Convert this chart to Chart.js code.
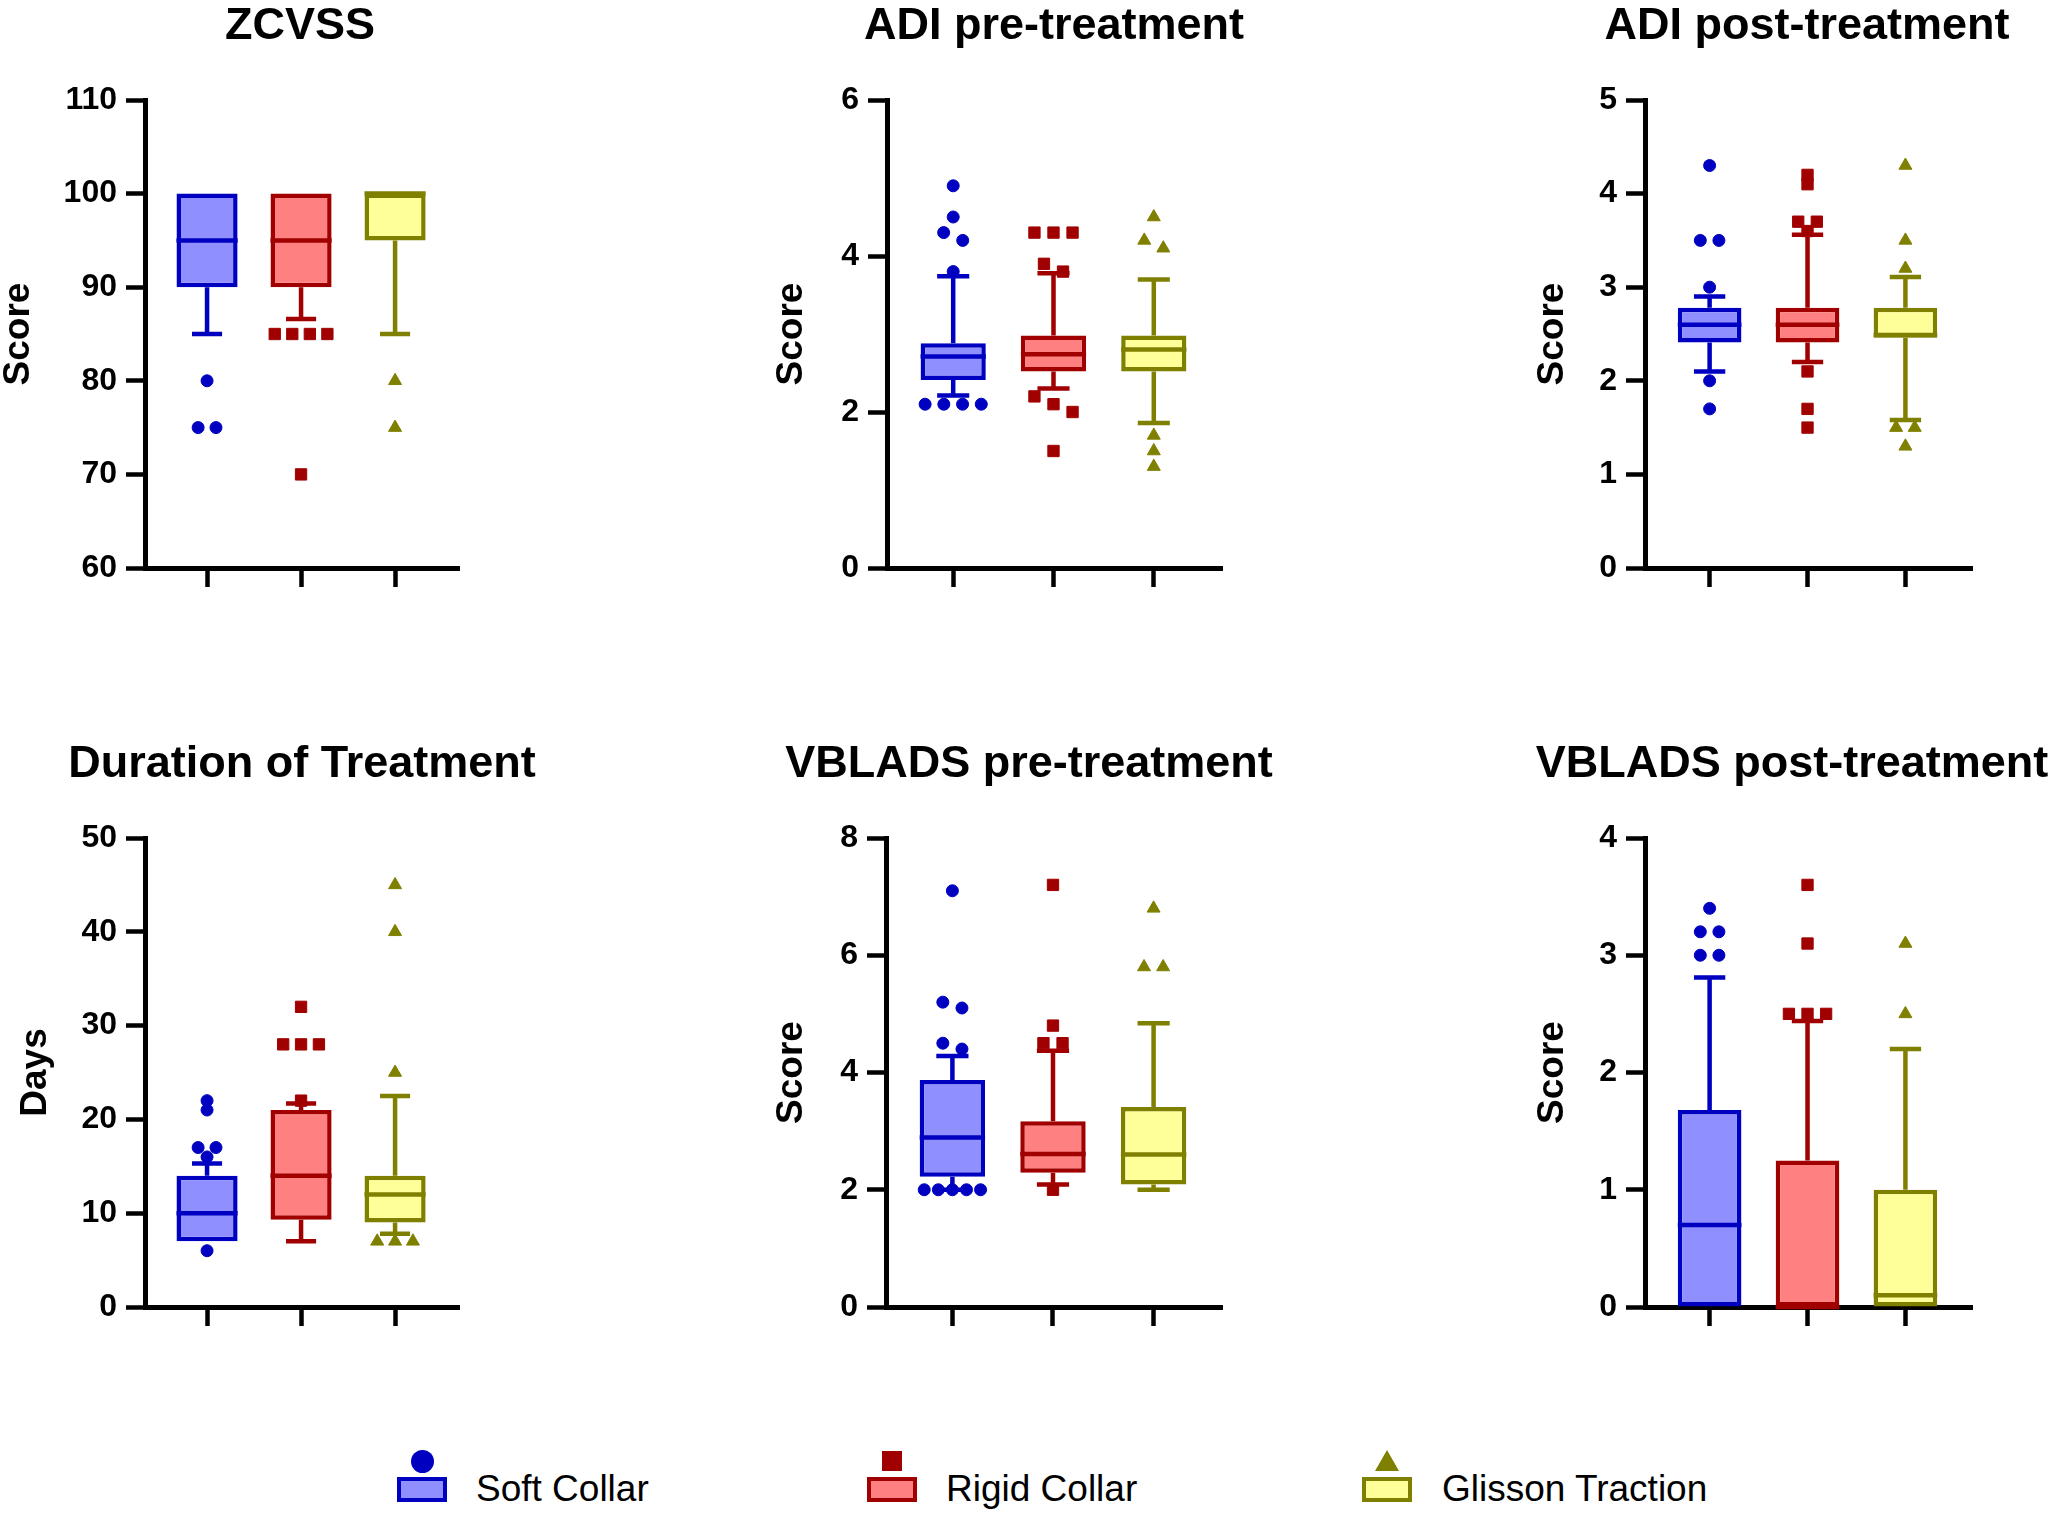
<!DOCTYPE html>
<html lang="en">
  <head>
    <meta charset="UTF-8" />
    <title>Box plots: Soft Collar vs Rigid Collar vs Glisson Traction</title>
    <style>
      html,
      body {
        margin: 0;
        padding: 0;
        background: #fff;
      }
      body {
        width: 2055px;
        height: 1516px;
        position: relative;
        overflow: hidden;
        font-family: "Liberation Sans", Arial, sans-serif;
      }
      canvas {
        position: absolute;
      }
      .legend-mark,
      .legend-box,
      .legend-text {
        position: absolute;
      }
      .legend-box {
        width: 50px;
        height: 25px;
        box-sizing: border-box;
        border: 4px solid;
      }
      .legend-text {
        font-size: 37px;
        line-height: 44px;
        color: #000;
        white-space: nowrap;
      }
    </style>
    <script src="https://cdn.jsdelivr.net/npm/chart.js"></script>
  </head>
  <body>
    <script>
      // grupos y paneles
      const groups = ["Soft Collar", "Rigid Collar", "Glisson Traction"];
      const panelTitles = [
        "ZCVSS",
        "ADI pre-treatment",
        "ADI post-treatment",
        "Duration of Treatment",
        "VBLADS pre-treatment",
        "VBLADS post-treatment",
      ];
      const yTitles = ["Score", "Score", "Score", "Days", "Score", "Score"];
      const yMin = [60, 0, 0, 0, 0, 0];
      const yMax = [110, 6, 5, 50, 8, 4];
      const yStep = [10, 2, 1, 10, 2, 1];

      // caja: [soft, rigid, glisson] para cada panel
      const q1 = [[90, 90, 95], [2.41, 2.52, 2.52], [2.41, 2.41, 2.46], [7, 9.3, 9], [2.22, 2.29, 2.09], [0, 0, 0]];
      const medians = [[95, 95, 100], [2.71, 2.74, 2.8], [2.6, 2.6, 2.49], [10, 14, 12], [2.89, 2.61, 2.6], [0.7, 0, 0.1]];
      const q3 = [[100, 100, 100], [2.88, 2.98, 2.98], [2.78, 2.78, 2.78], [14, 21, 14], [3.87, 3.17, 3.41], [1.68, 1.25, 1.0]];
      const whiskerLow = [[85, 86.6, 85], [2.21, 2.3, 1.86], [2.1, 2.2, 1.58], [7, 7, 7.8], [2.0, 2.09, 2.0], [0, 0, 0]];
      const whiskerHigh = [[100, 100, 100], [3.74, 3.78, 3.7], [2.9, 3.56, 3.11], [15.3, 21.7, 22.5], [4.28, 4.37, 4.84], [2.81, 2.44, 2.2]];

      // valores atipicos
      const outSoft = [
        [80, 75, 75],
        [4.9, 4.5, 4.3, 4.2, 3.8, 2.1, 2.1, 2.1, 2.1],
        [4.3, 3.5, 3.5, 3.0, 2.0, 1.7],
        [22, 21, 17, 17, 16, 6],
        [7.1, 5.2, 5.1, 4.5, 4.4, 2.0, 2.0, 2.0, 2.0, 2.0],
        [3.4, 3.2, 3.2, 3.0, 3.0],
      ];
      const outRigid = [
        [85, 85, 85, 85, 70],
        [4.3, 4.3, 4.3, 3.9, 3.8, 2.2, 2.1, 2.0, 1.5],
        [4.2, 4.1, 3.7, 3.7, 3.6, 2.1, 1.7, 1.5],
        [32, 28, 28, 28, 22],
        [7.2, 4.8, 4.5, 4.5, 2.0],
        [3.6, 3.1, 2.5, 2.5, 2.5],
      ];
      const outGlisson = [
        [80, 75],
        [4.5, 4.2, 4.1, 1.7, 1.5, 1.3],
        [4.3, 3.5, 3.2, 1.5, 1.5, 1.3],
        [45, 40, 25, 7, 7, 7],
        [6.8, 5.8, 5.8],
        [3.1, 2.5],
      ];

      // estilos
      const borderColors = ["#0000C0", "#A00000", "#808000"];
      const fillColors = ["#8F8FFF", "#FF8080", "#FFFF99"];
      const pointStyles = ["circle", "rect", "triangle"];
      const pointSizes = [6, 8, 7.5];
      const FONT = "'Liberation Sans', Arial, sans-serif";
      const BOX_W = 0.65; // ancho de caja en unidades de categoria
      const CAP_W = 0.32;
      const LINE_W = 4.5;

      // posicion de cada lienzo (px)
      const panelLayout = [
        { left: -3, top: 0, width: 606, yW: 148, padW: 144, xH: 32 },
        { left: 770, top: 0, width: 568, yW: 117, padW: 116, xH: 32 },
        { left: 1531, top: 0, width: 552, yW: 114, padW: 111, xH: 32 },
        { left: 14, top: 738, width: 576, yW: 131, padW: 131, xH: 31 },
        { left: 770, top: 738, width: 518, yW: 116, padW: 66, xH: 31 },
        { left: 1531, top: 738, width: 522, yW: 114, padW: 81, xH: 31 },
      ];

      // reparte horizontalmente los puntos que se tocan (como Prism)
      function spreadPoints(values, range) {
        const sorted = values.slice().sort((a, b) => b - a);
        const out = [];
        let cluster = [];
        const flush = () => {
          const n = cluster.length;
          const step = n > 1 ? Math.min(0.19, 0.56 / (n - 1)) : 0;
          cluster.forEach((v, i) => out.push({ off: (i - (n - 1) / 2) * step, y: v }));
          cluster = [];
        };
        sorted.forEach((v) => {
          if (cluster.length && (cluster[cluster.length - 1] - v) / range > 0.018) flush();
          cluster.push(v);
        });
        if (cluster.length) flush();
        return out;
      }

      // bigotes y medianas
      function boxPlugin(p) {
        return {
          id: "boxWhiskers",
          beforeDatasetsDraw(chart) {
            const { ctx } = chart;
            const x = chart.scales.x;
            const y = chart.scales.y;
            ctx.save();
            ctx.lineWidth = LINE_W;
            groups.forEach((g, i) => {
              const cx = x.getPixelForValue(i + 1);
              const half = x.getPixelForValue(i + 1 + CAP_W / 2) - cx;
              ctx.strokeStyle = borderColors[i];
              [
                [q3[p][i], whiskerHigh[p][i]],
                [q1[p][i], whiskerLow[p][i]],
              ].forEach(([edge, end]) => {
                if (edge === end) return;
                const y0 = y.getPixelForValue(edge);
                const y1 = y.getPixelForValue(end);
                ctx.beginPath();
                ctx.moveTo(cx, y0);
                ctx.lineTo(cx, y1);
                ctx.moveTo(cx - half, y1);
                ctx.lineTo(cx + half, y1);
                ctx.stroke();
              });
            });
            ctx.restore();
          },
          afterDatasetDraw(chart, args) {
            if (args.meta.type !== "bar") return;
            const { ctx } = chart;
            const y = chart.scales.y;
            ctx.save();
            ctx.lineWidth = LINE_W;
            args.meta.data.forEach((bar, i) => {
              const ym = y.getPixelForValue(medians[p][i]);
              ctx.strokeStyle = borderColors[i];
              ctx.beginPath();
              ctx.moveTo(bar.x - bar.width / 2, ym);
              ctx.lineTo(bar.x + bar.width / 2, ym);
              ctx.stroke();
            });
            ctx.restore();
          },
        };
      }

      const axisLine = { display: true, color: "#000", width: 5 };
      const tickMarks = {
        display: true,
        drawOnChartArea: false,
        drawTicks: true,
        tickLength: 19,
        tickWidth: LINE_W,
        tickColor: "#000",
        offset: false,
      };

      function makePanel(p) {
        const lay = panelLayout[p];
        const canvas = document.createElement("canvas");
        canvas.width = lay.width;
        canvas.height = 600;
        canvas.style.left = lay.left + "px";
        canvas.style.top = lay.top + "px";
        document.body.appendChild(canvas);

        const boxes = {
          type: "bar",
          data: groups.map((g, i) => ({ x: i + 1, y: [q1[p][i], q3[p][i]] })),
          backgroundColor: fillColors,
          borderColor: borderColors,
          borderWidth: LINE_W,
          borderSkipped: false,
          barPercentage: BOX_W,
          categoryPercentage: 1,
          order: 1,
        };
        const outliers = [outSoft, outRigid, outGlisson].map((set, i) => ({
          type: "scatter",
          label: groups[i],
          data: spreadPoints(set[p], yMax[p] - yMin[p]).map((pt) => ({ x: i + 1 + pt.off, y: pt.y })),
          pointStyle: pointStyles[i],
          pointRadius: pointSizes[i],
          backgroundColor: borderColors[i],
          borderColor: borderColors[i],
          borderWidth: 1,
          order: 0,
        }));

        new Chart(canvas, {
          type: "bar",
          data: { datasets: [boxes, ...outliers] },
          options: {
            responsive: false,
            devicePixelRatio: 1,
            animation: false,
            events: [],
            layout: { padding: 0, autoPadding: false },
            plugins: {
              legend: { display: false },
              tooltip: { enabled: false },
              title: {
                display: true,
                text: panelTitles[p],
                color: "#000",
                font: { family: FONT, size: 45, weight: "bold" },
                padding: { top: 0, bottom: 46 },
              },
            },
            scales: {
              x: {
                type: "linear",
                min: 0.34,
                max: 3.68,
                offset: false,
                grid: tickMarks,
                border: axisLine,
                ticks: { display: false },
                afterBuildTicks: (axis) => {
                  axis.ticks = groups.map((g, i) => ({ value: i + 1 }));
                },
                afterFit: (axis) => {
                  axis.height = lay.xH;
                },
              },
              y: {
                type: "linear",
                min: yMin[p],
                max: yMax[p],
                grid: tickMarks,
                border: axisLine,
                ticks: {
                  stepSize: yStep[p],
                  color: "#000",
                  padding: 9,
                  font: { family: FONT, size: 32, weight: "bold" },
                },
                title: {
                  display: true,
                  text: yTitles[p],
                  color: "#000",
                  padding: { top: 0, bottom: 0 },
                  font: { family: FONT, size: 37, weight: "bold" },
                },
                afterFit: (axis) => {
                  axis.width = lay.yW;
                },
              },
              pad: {
                type: "linear",
                position: "right",
                display: true,
                grid: { display: false },
                border: { display: false },
                ticks: { display: false },
                afterFit: (axis) => {
                  axis.width = lay.padW;
                },
              },
            },
          },
          plugins: [boxPlugin(p)],
        });
      }

      panelTitles.forEach((t, p) => makePanel(p));

      // leyenda comun abajo
      const legendX = [422, 892, 1387];
      const legendTextX = [476, 946, 1442];
      groups.forEach((g, i) => {
        const c = legendX[i];
        const mark = document.createElement("div");
        mark.className = "legend-mark";
        if (pointStyles[i] === "circle") {
          Object.assign(mark.style, {
            left: c - 11.5 + "px",
            top: 1461 - 11.5 + "px",
            width: "23px",
            height: "23px",
            borderRadius: "50%",
            background: borderColors[i],
          });
        } else if (pointStyles[i] === "rect") {
          Object.assign(mark.style, {
            left: c - 10 + "px",
            top: 1451 + "px",
            width: "20px",
            height: "20px",
            background: borderColors[i],
          });
        } else {
          Object.assign(mark.style, {
            left: c - 12 + "px",
            top: 1450 + "px",
            width: "0",
            height: "0",
            borderLeft: "12px solid transparent",
            borderRight: "12px solid transparent",
            borderBottom: "21px solid " + borderColors[i],
          });
        }
        document.body.appendChild(mark);

        const box = document.createElement("div");
        box.className = "legend-box";
        box.style.left = c - 25 + "px";
        box.style.top = "1477px";
        box.style.borderColor = borderColors[i];
        box.style.background = fillColors[i];
        document.body.appendChild(box);

        const txt = document.createElement("div");
        txt.className = "legend-text";
        txt.style.left = legendTextX[i] + "px";
        txt.style.top = "1467px";
        txt.textContent = g;
        document.body.appendChild(txt);
      });
    </script>
  </body>
</html>
